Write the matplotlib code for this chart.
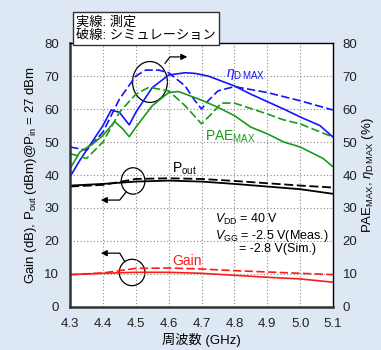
import matplotlib
matplotlib.use("Agg")
import matplotlib.pyplot as plt
from matplotlib.patches import Arc

plt.rcParams['font.family'] = ['Liberation Sans', 'Noto Sans CJK JP', 'DejaVu Sans']
plt.rcParams['mathtext.fontset'] = 'custom'
plt.rcParams['mathtext.rm'] = 'Liberation Sans'
plt.rcParams['mathtext.it'] = 'Liberation Sans:italic'

# drain efficiency (%), measured and simulated
eta_meas_f = [4.30, 4.33, 4.36, 4.40, 4.425, 4.45, 4.48, 4.50, 4.55, 4.60, 4.65, 4.68, 4.72, 4.76, 4.80, 4.85, 4.89, 4.95, 5.00, 5.06, 5.10]
eta_meas = [39.5, 44.5, 49.0, 55.0, 59.7, 59.0, 55.2, 59.0, 66.5, 70.3, 71.0, 70.8, 70.0, 68.5, 67.0, 64.5, 62.7, 60.0, 57.6, 55.0, 51.5]
eta_sim_f = [4.30, 4.35, 4.40, 4.45, 4.50, 4.53, 4.57, 4.60, 4.65, 4.68, 4.70, 4.72, 4.75, 4.80, 4.90, 5.00, 5.10]
eta_sim = [48.5, 47.5, 53.0, 63.0, 70.0, 71.8, 71.8, 71.0, 67.0, 62.5, 60.0, 62.5, 65.5, 66.8, 65.0, 62.5, 59.7]

# power added efficiency (%), measured and simulated
pae_meas_f = [4.30, 4.33, 4.37, 4.40, 4.436, 4.46, 4.48, 4.50, 4.55, 4.60, 4.63, 4.70, 4.75, 4.80, 4.85, 4.90, 4.95, 5.00, 5.07, 5.10]
pae_meas = [42.0, 47.0, 49.5, 52.0, 56.2, 54.0, 51.6, 54.5, 61.0, 65.0, 65.3, 62.7, 60.5, 58.0, 54.5, 52.5, 50.0, 48.5, 45.0, 42.5]
pae_sim_f = [4.30, 4.35, 4.40, 4.45, 4.50, 4.54, 4.60, 4.65, 4.70, 4.73, 4.76, 4.80, 4.90, 4.95, 5.00, 5.10]
pae_sim = [46.5, 45.0, 50.0, 59.0, 64.5, 66.6, 65.5, 61.0, 55.5, 58.5, 61.8, 61.8, 58.5, 56.7, 55.5, 51.5]

# output power (dBm) and gain (dB)
freq = [4.3, 4.4, 4.5, 4.6, 4.7, 4.8, 4.9, 5.0, 5.1]
pout_meas = [36.8, 37.3, 38.0, 38.3, 38.0, 37.3, 36.5, 35.7, 34.3]
pout_sim = [36.5, 37.0, 38.8, 39.0, 38.8, 38.2, 37.5, 36.8, 36.2]
gain_meas = [9.8, 10.2, 10.5, 10.5, 10.2, 9.6, 9.0, 8.5, 7.5]
gain_sim = [9.8, 10.3, 11.7, 11.8, 11.5, 11.0, 10.6, 10.2, 9.8]

xticks = [4.3, 4.4, 4.5, 4.6, 4.7, 4.8, 4.9, 5.0, 5.1]
yticks = [0, 10, 20, 30, 40, 50, 60, 70, 80]

blue = '#1414ff'
green = '#1a9a1a'
red = '#ff1a1a'
bg = '#dde8f4'

fig = plt.figure(figsize=(3.81, 3.5), dpi=100, facecolor=bg)
ax = fig.add_axes([0.184, 0.123, 0.690, 0.754])
ax.set_facecolor('white')

ax.plot(eta_meas_f, eta_meas, color=blue, lw=1.2)
ax.plot(eta_sim_f, eta_sim, color=blue, lw=1.2, ls=(0, (5, 2)))
ax.plot(pae_meas_f, pae_meas, color=green, lw=1.2)
ax.plot(pae_sim_f, pae_sim, color=green, lw=1.2, ls=(0, (5, 2)))
ax.plot(freq, pout_meas, color='black', lw=1.3)
ax.plot(freq, pout_sim, color='black', lw=1.3, ls=(0, (5, 2)))
ax.plot(freq, gain_meas, color=red, lw=1.2)
ax.plot(freq, gain_sim, color=red, lw=1.2, ls=(0, (5, 2)))

ax.set_xlim(4.3, 5.1)
ax.set_ylim(0, 80)
ax.set_xticks(xticks)
ax.set_xticklabels([f'{v:.1f}' for v in xticks])
ax.set_yticks(yticks)
ax.grid(True, color='#888888', ls=(0, (1, 2)), lw=0.8)
ax.tick_params(length=0, labelsize=9.5, pad=8, colors='#222222')
for s in ['left', 'bottom']:
    ax.spines[s].set_linewidth(1.8)
    ax.spines[s].set_color('#333333')
for s in ['right', 'top']:
    ax.spines[s].set_linewidth(1.0)

ax2 = ax.twinx()
ax2.set_ylim(0, 80)
ax2.set_yticks(yticks)
ax2.tick_params(length=0, labelsize=9.5, pad=7, colors='#222222')
for s in ax2.spines.values():
    s.set_visible(False)

ax.set_xlabel('周波数 (GHz)', fontsize=9.5, labelpad=2)
ax.set_ylabel(r'Gain (dB), P$_\mathrm{out}$ (dBm)@P$_\mathrm{in}$ = 27 dBm', fontsize=9.5, labelpad=4)
ax2.set_ylabel(r'PAE$_\mathrm{MAX}$, $\eta_\mathrm{D\,MAX}$ (%)', fontsize=9.5, labelpad=2)

# curve labels
ax.text(4.775, 70.5, r'$\it{\eta}_\mathrm{D\,MAX}$', color=blue, fontsize=10, ha='left', va='center')
ax.text(4.71, 51.5, r'PAE$_\mathrm{MAX}$', color=green, fontsize=10, ha='left', va='center')
ax.text(4.61, 42.0, r'P$_\mathrm{out}$', color='black', fontsize=10, ha='left', va='center')
ax.text(4.61, 14.0, 'Gain', color=red, fontsize=10, ha='left', va='center')
ax.text(4.74, 26.5, r'$V_\mathrm{DD}$ = 40 V', fontsize=9, ha='left', va='center')
ax.text(4.74, 21.5, r'$V_\mathrm{GG}$ = -2.5 V(Meas.)', fontsize=9, ha='left', va='center')
ax.text(4.815, 17.5, '= -2.8 V(Sim.)', fontsize=9, ha='left', va='center')

# circles with arrows pointing to their axis
ax.add_patch(Arc((4.543, 68.2), 0.106, 12.4, theta1=40, theta2=310, color='black', lw=0.9))
ax.plot([4.589, 4.604, 4.63], [73.9, 75.8, 75.8], color='black', lw=0.9)
ax.annotate('', xy=(4.665, 75.8), xytext=(4.625, 75.8),
            arrowprops=dict(arrowstyle='-|>', color='black', lw=0.9, mutation_scale=9))

ax.add_patch(Arc((4.4917, 38.2), 0.072, 8.0, theta1=-125, theta2=150, color='black', lw=0.9))
ax.plot([4.47, 4.451, 4.41], [34.8, 32.4, 32.4], color='black', lw=0.9)
ax.annotate('', xy=(4.385, 32.4), xytext=(4.42, 32.4),
            arrowprops=dict(arrowstyle='-|>', color='black', lw=0.9, mutation_scale=9))

ax.add_patch(Arc((4.4886, 10.45), 0.078, 8.0, theta1=-145, theta2=125, color='black', lw=0.9))
ax.plot([4.466, 4.451, 4.41], [13.8, 16.3, 16.3], color='black', lw=0.9)
ax.annotate('', xy=(4.385, 16.3), xytext=(4.42, 16.3),
            arrowprops=dict(arrowstyle='-|>', color='black', lw=0.9, mutation_scale=9))

# legend box: solid = measured, dashed = simulated
fig.text(0.2, 0.955, '実線: 測定\n破線: シミュレーション', fontsize=9.5, ha='left', va='top',
         linespacing=1.15,
         bbox=dict(boxstyle='square,pad=0.25', facecolor='white', edgecolor='#333333', lw=1.0))

fig.savefig('out.png', dpi=100, facecolor=bg)
